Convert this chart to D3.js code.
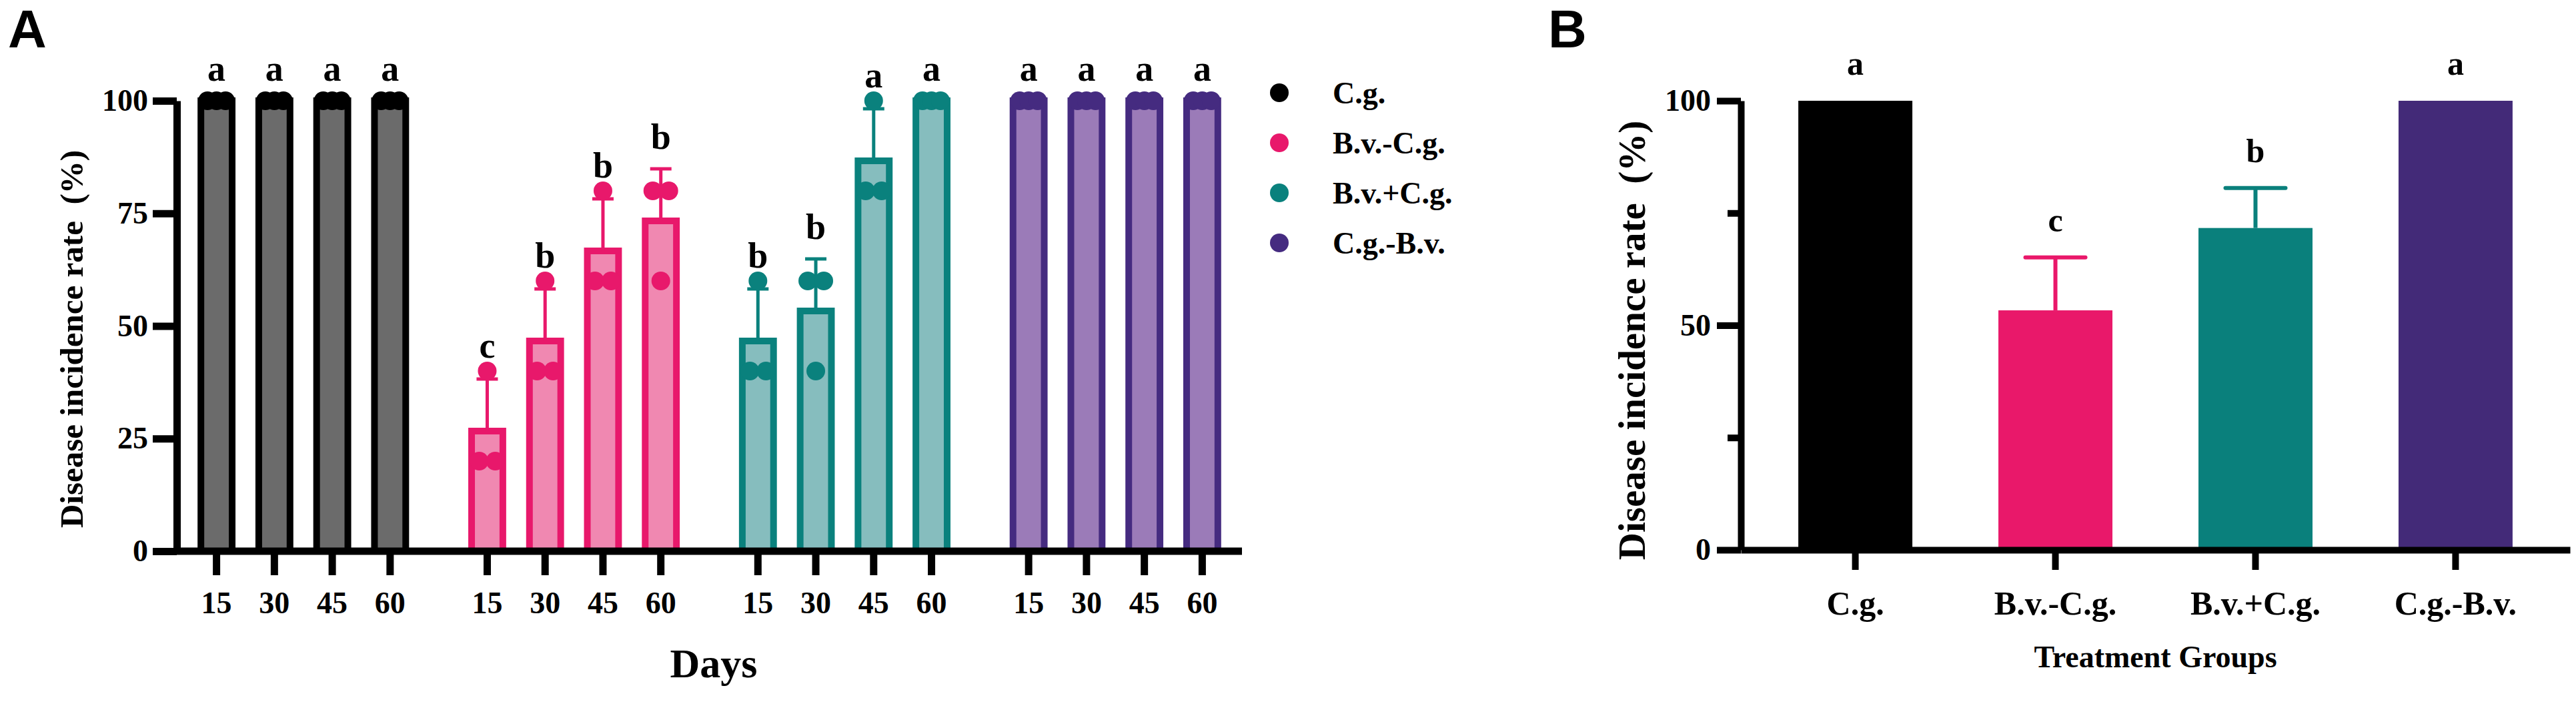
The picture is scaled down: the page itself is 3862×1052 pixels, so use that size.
<!DOCTYPE html>
<html>
<head>
<meta charset="utf-8">
<script src="https://cdn.jsdelivr.net/npm/d3@7"></script>
<style>
  body { margin: 0; background: #fff; }
  svg { display: block; }
  text { font-family: "Palatino Linotype", "Book Antiqua", Palatino, "Liberation Serif", serif; font-weight: bold; fill: #000; }
  .panel-label { font-family: "Liberation Sans", Arial, sans-serif; }
</style>
</head>
<body>
<div id="chart"></div>
<script>
// données
const days = ["15", "30", "45", "60"];
const groups = ["C.g.", "B.v.-C.g.", "B.v.+C.g.", "C.g.-B.v."];

// répétitions (3 par jour) pour chaque traitement
const cgPoints = [[100, 100, 100], [100, 100, 100], [100, 100, 100], [100, 100, 100]];
const bvMinusCgPoints = [[20, 20, 40], [40, 40, 60], [60, 60, 80], [60, 80, 80]];
const bvPlusCgPoints = [[40, 40, 60], [40, 60, 60], [80, 80, 100], [100, 100, 100]];
const cgMinusBvPoints = [[100, 100, 100], [100, 100, 100], [100, 100, 100], [100, 100, 100]];

const lettersA = [
  ["a", "a", "a", "a"],
  ["c", "b", "b", "b"],
  ["b", "b", "a", "a"],
  ["a", "a", "a", "a"]
];
const yTicksA = [0, 25, 50, 75, 100];

// panneau B
const meansB = [100, 53.33, 71.67, 100];
const errorsB = [0, 11.8, 8.9, 0];
const lettersB = ["a", "c", "b", "a"];
const yTicksB = [0, 50, 100];
const yMinorTicksB = [25, 75];

// couleurs
const strokeColors = ["#000000", "#e8186b", "#0a817d", "#452b80"];
const fillColors = ["#6b6b6b", "#f088b1", "#86bdbe", "#9b7bb8"];
const solidColors = ["#000000", "#e9186a", "#0a807c", "#432a78"];

const allPoints = [cgPoints, bvMinusCgPoints, bvPlusCgPoints, cgMinusBvPoints];

const W = 3862, H = 1052;
const svg = d3.select("#chart").append("svg")
  .attr("width", W).attr("height", H)
  .attr("viewBox", `0 0 ${W} ${H}`);

svg.append("rect").attr("width", W).attr("height", H).attr("fill", "#fff");

// ---------- Panneau A ----------
const axA = { left: 265, right: 1862, top: 151, bottom: 826 };

const yA = d3.scaleLinear().domain([0, 100]).range([axA.bottom, axA.top]);
const xGroup = d3.scaleBand().domain(groups).range([axA.left, axA.right])
  .paddingInner(0.145).paddingOuter(0.04);
const xDay = d3.scaleBand().domain(days).range([0, xGroup.bandwidth()])
  .paddingInner(0.46).paddingOuter(0.23);

const gA = svg.append("g");

groups.forEach((grp, gi) => {
  const gx = xGroup(grp);
  days.forEach((day, di) => {
    const pts = allPoints[gi][di];
    const mean = d3.mean(pts);
    const sd = d3.deviation(pts) || 0;
    const x0 = gx + xDay(day);
    const cx = x0 + xDay.bandwidth() / 2;

    // barre
    gA.append("rect")
      .attr("x", x0)
      .attr("y", yA(mean))
      .attr("width", xDay.bandwidth())
      .attr("height", yA(0) - yA(mean))
      .attr("fill", fillColors[gi])
      .attr("stroke", strokeColors[gi])
      .attr("stroke-width", 10);

    // barre d'erreur (vers le haut seulement)
    if (sd > 0) {
      gA.append("line")
        .attr("x1", cx).attr("x2", cx)
        .attr("y1", yA(mean)).attr("y2", yA(mean + sd))
        .attr("stroke", strokeColors[gi]).attr("stroke-width", 5);
      gA.append("line")
        .attr("x1", cx - 16).attr("x2", cx + 16)
        .attr("y1", yA(mean + sd)).attr("y2", yA(mean + sd))
        .attr("stroke", strokeColors[gi]).attr("stroke-width", 5);
    }

    // points individuels, décalés quand les valeurs se répètent
    const counts = d3.rollup(pts, v => v.length, d => d);
    counts.forEach((n, val) => {
      const spacing = n === 2 ? 24 : 13.5;
      d3.range(n).forEach(k => {
        gA.append("circle")
          .attr("cx", cx + (k - (n - 1) / 2) * spacing)
          .attr("cy", yA(val))
          .attr("r", 14)
          .attr("fill", strokeColors[gi]);
      });
    });

    // lettre de significativité
    const top = Math.min(yA(mean + sd) - 30, yA(d3.max(pts)) - 20);
    gA.append("text")
      .attr("x", cx)
      .attr("y", top)
      .attr("text-anchor", "middle")
      .attr("font-size", "54px")
      .text(lettersA[gi][di]);
  });

  // graduations de l'axe X pour ce groupe
  const axisG = gA.append("g")
    .attr("transform", `translate(${gx},${axA.bottom})`)
    .call(d3.axisBottom(xDay).tickSize(36).tickSizeOuter(0).tickPadding(24));
  axisG.select(".domain").remove();
  axisG.selectAll(".tick line").attr("stroke", "#000").attr("stroke-width", 11);
  axisG.selectAll(".tick text").attr("font-size", "46px").attr("font-family", null);
});

// ligne de base de l'axe X
gA.append("line")
  .attr("x1", axA.left - 5).attr("x2", axA.right)
  .attr("y1", axA.bottom).attr("y2", axA.bottom)
  .attr("stroke", "#000").attr("stroke-width", 11);

// axe Y
const yAxisA = gA.append("g")
  .attr("transform", `translate(${axA.left},0)`)
  .call(d3.axisLeft(yA).tickValues(yTicksA).tickSize(36).tickSizeOuter(0).tickPadding(7));
yAxisA.select(".domain").attr("stroke", "#000").attr("stroke-width", 11);
yAxisA.selectAll(".tick line").attr("stroke", "#000").attr("stroke-width", 11);
yAxisA.selectAll(".tick text").attr("font-size", "46px").attr("font-family", null);

// titres
gA.append("text")
  .attr("transform", "translate(124,508) rotate(-90)")
  .attr("text-anchor", "middle")
  .attr("font-size", "49px")
  .text("Disease incidence rate\u2002(%)");

gA.append("text")
  .attr("x", 1070).attr("y", 1015)
  .attr("text-anchor", "middle")
  .attr("font-size", "62px")
  .text("Days");

gA.append("text")
  .attr("class", "panel-label")
  .attr("x", 12).attr("y", 71)
  .attr("font-size", "80px")
  .text("A");

// légende
const legendY = d3.scalePoint().domain(groups).range([139, 364]);
const legend = svg.append("g");
groups.forEach((grp, gi) => {
  legend.append("circle")
    .attr("cx", 1918).attr("cy", legendY(grp)).attr("r", 14)
    .attr("fill", strokeColors[gi]);
  legend.append("text")
    .attr("x", 1998).attr("y", legendY(grp) + 16)
    .attr("font-size", "46px")
    .text(grp);
});

// ---------- Panneau B ----------
const axB = { left: 2610, right: 3853, top: 151, bottom: 824 };
const yB = d3.scaleLinear().domain([0, 100]).range([axB.bottom, axB.top]);
const xB = d3.scaleBand().domain(groups).range([axB.left, axB.right])
  .paddingInner(0.43).paddingOuter(0.287);

const gB = svg.append("g");

gB.selectAll(".barB")
  .data(groups)
  .enter()
  .append("rect")
  .attr("class", "barB")
  .attr("x", d => xB(d))
  .attr("y", (d, i) => yB(meansB[i]))
  .attr("width", xB.bandwidth())
  .attr("height", (d, i) => yB(0) - yB(meansB[i]))
  .attr("fill", (d, i) => solidColors[i]);

groups.forEach((grp, i) => {
  const cx = xB(grp) + xB.bandwidth() / 2;
  if (errorsB[i] > 0) {
    gB.append("line")
      .attr("x1", cx).attr("x2", cx)
      .attr("y1", yB(meansB[i])).attr("y2", yB(meansB[i] + errorsB[i]))
      .attr("stroke", solidColors[i]).attr("stroke-width", 6);
    gB.append("line")
      .attr("x1", cx - 45).attr("x2", cx + 45)
      .attr("y1", yB(meansB[i] + errorsB[i])).attr("y2", yB(meansB[i] + errorsB[i]))
      .attr("stroke", solidColors[i]).attr("stroke-width", 6)
      .attr("stroke-linecap", "round");
  }
  gB.append("text")
    .attr("x", cx)
    .attr("y", yB(meansB[i] + errorsB[i]) - 39)
    .attr("text-anchor", "middle")
    .attr("font-size", "50px")
    .text(lettersB[i]);
});

// axe X
const xAxisB = gB.append("g")
  .attr("transform", `translate(0,${axB.bottom})`)
  .call(d3.axisBottom(xB).tickSize(30).tickSizeOuter(0).tickPadding(31));
xAxisB.select(".domain").attr("stroke", "#000").attr("stroke-width", 10);
xAxisB.selectAll(".tick line").attr("stroke", "#000").attr("stroke-width", 10);
xAxisB.selectAll(".tick text").attr("font-size", "50px").attr("font-family", null);

// axe Y avec petites graduations
gB.append("g")
  .attr("transform", `translate(${axB.left},0)`)
  .call(d3.axisLeft(yB).tickValues(yMinorTicksB).tickSize(20).tickFormat(""))
  .call(g => g.select(".domain").remove())
  .selectAll(".tick line").attr("stroke", "#000").attr("stroke-width", 10);

const yAxisB = gB.append("g")
  .attr("transform", `translate(${axB.left},0)`)
  .call(d3.axisLeft(yB).tickValues(yTicksB).tickSize(36).tickSizeOuter(0).tickPadding(9));
yAxisB.select(".domain").attr("stroke", "#000").attr("stroke-width", 10);
yAxisB.selectAll(".tick line").attr("stroke", "#000").attr("stroke-width", 10);
yAxisB.selectAll(".tick text").attr("font-size", "46px").attr("font-family", null);

gB.append("text")
  .attr("transform", "translate(2466,510) rotate(-90)")
  .attr("text-anchor", "middle")
  .attr("font-size", "57px")
  .text("Disease incidence rate\u2002(%)");

gB.append("text")
  .attr("x", (axB.left + axB.right) / 2).attr("y", 1000)
  .attr("text-anchor", "middle")
  .attr("font-size", "46px")
  .text("Treatment Groups");

gB.append("text")
  .attr("class", "panel-label")
  .attr("x", 2321).attr("y", 71)
  .attr("font-size", "80px")
  .text("B");
</script>
</body>
</html>
